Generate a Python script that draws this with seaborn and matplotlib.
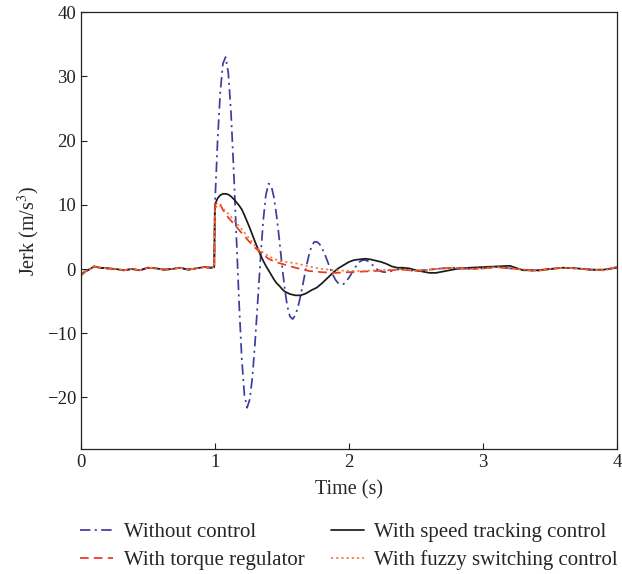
import numpy as np
import pandas as pd
import matplotlib
matplotlib.use("Agg")
import matplotlib.pyplot as plt
import seaborn as sns

# --- data (time in s, jerk in m/s^3) ---
pre_t = [0.0, 0.03, 0.06, 0.10, 0.14, 0.20, 0.26, 0.32, 0.38, 0.44, 0.50,
         0.56, 0.62, 0.68, 0.74, 0.80, 0.86, 0.92, 0.97, 0.995]
pre_jerk = [-1.0, -0.4, -0.1, 0.4, 0.2, 0.1, 0.0, -0.2, 0.0, -0.2, 0.2,
            0.1, -0.1, 0.0, 0.2, -0.1, 0.1, 0.3, 0.2, 0.3]

tail_t = [2.45, 2.5, 2.6, 2.7, 2.8, 2.9, 3.0, 3.1, 3.2, 3.3, 3.4, 3.5,
          3.6, 3.7, 3.8, 3.9, 4.0]
tail_jerk = [-0.2, -0.3, -0.1, 0.1, 0.2, 0.0, 0.1, 0.3, 0.1, -0.1, -0.3,
             0.0, 0.2, 0.1, -0.1, -0.2, 0.3]

# without control (oscillating)
nc_t = [1.0, 1.02, 1.04, 1.06, 1.08, 1.10, 1.12, 1.14, 1.16, 1.18, 1.20, 1.22,
        1.24, 1.26, 1.28, 1.30, 1.32, 1.34, 1.36, 1.38, 1.40, 1.42, 1.44, 1.46,
        1.48, 1.50, 1.52, 1.54, 1.56, 1.58, 1.60, 1.62, 1.64, 1.66, 1.68, 1.70,
        1.72, 1.74, 1.76, 1.78, 1.80, 1.82, 1.84, 1.86, 1.88, 1.90, 1.92, 1.94,
        1.96, 1.98, 2.00, 2.02, 2.04, 2.06, 2.08, 2.10, 2.12, 2.14, 2.16, 2.18,
        2.20, 2.22, 2.25, 2.28, 2.32, 2.36, 2.40]
nc_jerk = [10.0, 20.0, 27.5, 32.0, 33.0, 30.5, 24.4, 15.5, 5.2, -5.1, -13.8, -19.6,
           -21.6, -20.3, -16.8, -11.3, -4.9, 1.6, 7.4, 11.5, 13.3, 13.0, 11.2, 8.3,
           4.7, 0.7, -2.9, -5.8, -7.4, -7.8, -7.2, -5.9, -4.1, -2.0, 0.2, 2.05,
           3.5, 4.2, 4.25, 3.9, 3.2, 2.3, 1.2, 0.1, -0.9, -1.7, -2.2, -2.4,
           -2.35, -1.9, -1.35, -0.67, 0.02, 0.65, 1.12, 1.37, 1.4, 1.25, 0.95, 0.55,
           0.15, -0.2, -0.45, -0.5, -0.3, -0.1, 0.1]

# with speed tracking control
sp_t = [1.0, 1.02, 1.04, 1.06, 1.08, 1.10, 1.12, 1.14, 1.16, 1.18, 1.20, 1.22,
        1.24, 1.26, 1.28, 1.30, 1.32, 1.34, 1.36, 1.38, 1.40, 1.42, 1.44, 1.46,
        1.48, 1.50, 1.52, 1.54, 1.56, 1.58, 1.60, 1.64, 1.68, 1.72, 1.76, 1.80,
        1.84, 1.88, 1.92, 1.96, 2.00, 2.04, 2.08, 2.12, 2.16, 2.20, 2.24, 2.28,
        2.32, 2.36, 2.40, 2.45, 2.50, 2.55, 2.60, 2.65, 2.70, 2.75, 2.80, 2.90,
        3.00, 3.10, 3.20, 3.30, 3.40, 3.50, 3.60, 3.70, 3.80, 3.90, 4.00]
sp_jerk = [10.0, 11.0, 11.5, 11.7, 11.7, 11.6, 11.3, 10.9, 10.4, 9.9, 9.3, 8.4,
           7.4, 6.4, 5.3, 4.2, 3.2, 2.2, 1.3, 0.5, -0.2, -0.9, -1.6, -2.2,
           -2.6, -3.1, -3.5, -3.7, -3.9, -4.0, -4.1, -4.1, -3.8, -3.3, -2.9, -2.2,
           -1.4, -0.6, 0.1, 0.6, 1.1, 1.4, 1.5, 1.6, 1.5, 1.3, 1.1, 0.8,
           0.4, 0.2, 0.2, 0.1, -0.2, -0.4, -0.6, -0.6, -0.4, -0.2, 0.0, 0.2,
           0.3, 0.4, 0.5, -0.2, -0.2, 0.0, 0.2, 0.1, -0.1, -0.1, 0.2]

# with torque regulator
tq_t = [1.0, 1.03, 1.06, 1.10, 1.15, 1.20, 1.25, 1.30, 1.35, 1.40, 1.45, 1.50,
        1.55, 1.60, 1.70, 1.80, 1.90, 2.00, 2.10, 2.20, 2.30, 2.40]
tq_jerk = [10.0, 10.5, 9.2, 8.0, 6.8, 5.6, 4.4, 3.3, 2.4, 1.6, 1.1, 0.8,
           0.5, 0.2, -0.3, -0.5, -0.6, -0.5, -0.4, -0.3, -0.2, -0.1]

# with fuzzy switching control
fz_t = [1.0, 1.03, 1.06, 1.10, 1.15, 1.20, 1.25, 1.30, 1.35, 1.40, 1.45, 1.50,
        1.60, 1.70, 1.80, 1.90, 2.00, 2.10, 2.20, 2.30, 2.40]
fz_jerk = [9.5, 10.0, 9.4, 8.6, 7.4, 6.2, 4.9, 3.6, 2.7, 2.0, 1.5, 1.2,
           0.9, 0.4, 0.0, -0.2, -0.3, -0.3, -0.2, -0.1, 0.0]

series = {
    "Without control": (pre_t + nc_t + tail_t, pre_jerk + nc_jerk + tail_jerk),
    "With torque regulator": (pre_t + tq_t + tail_t, pre_jerk + tq_jerk + tail_jerk),
    "With speed tracking control": (pre_t + sp_t, pre_jerk + sp_jerk),
    "With fuzzy switching control": (pre_t + fz_t + tail_t, pre_jerk + fz_jerk + tail_jerk),
}
styles = {
    "Without control": dict(color="#3d3d9e", linestyle=(0, (6, 2.5, 1.2, 2.5)), lw=1.25),
    "With torque regulator": dict(color="#e53a1e", linestyle=(0, (5, 3)), lw=1.25),
    "With speed tracking control": dict(color="#1a1a1a", linestyle="-", lw=1.25),
    "With fuzzy switching control": dict(color="#f07838", linestyle=(0, (1.2, 1.8)), lw=1.25),
}
draw_order = ["Without control", "With speed tracking control",
              "With torque regulator", "With fuzzy switching control"]

sns.set_style("ticks")
plt.rcParams["font.family"] = ["Liberation Serif", "DejaVu Serif"]
plt.rcParams["mathtext.fontset"] = "stix"

fig = plt.figure(figsize=(6.22, 5.74), dpi=100)
ax = fig.add_axes([0.130, 0.218, 0.862, 0.761])

for name in draw_order:
    t, j = series[name]
    df = pd.DataFrame({"t": t, "jerk": j})
    sns.lineplot(data=df, x="t", y="jerk", ax=ax, estimator=None, sort=False,
                 label=name, **styles[name])

ax.set_xlim(0, 4)
ax.set_ylim(-28, 40)
ax.set_xticks([0, 1, 2, 3, 4])
ax.set_yticks([-20, -10, 0, 10, 20, 30, 40])
ax.tick_params(direction="in", labelsize=13.5, length=4, width=0.8, colors="#222222")
for s in ax.spines.values():
    s.set_visible(True)
    s.set_linewidth(0.9)
    s.set_color("#222222")
ax.set_xlabel("Time (s)", fontsize=14.5, labelpad=7)
ax.set_ylabel("Jerk (m/s$^3$)", fontsize=14.5, labelpad=3)

handles, labels = ax.get_legend_handles_labels()
hmap = dict(zip(labels, handles))
leg_order = ["Without control", "With torque regulator",
             "With speed tracking control", "With fuzzy switching control"]
ax.legend_.remove()
fig.legend([hmap[n] for n in leg_order], leg_order, loc="upper left",
           bbox_to_anchor=(0.1286, 0.09), ncol=2, frameon=False, fontsize=15,
           borderpad=0, borderaxespad=0, handlelength=1.6, columnspacing=1.25,
           labelspacing=0.4, handletextpad=0.5)

fig.savefig("out.png", dpi=100)
